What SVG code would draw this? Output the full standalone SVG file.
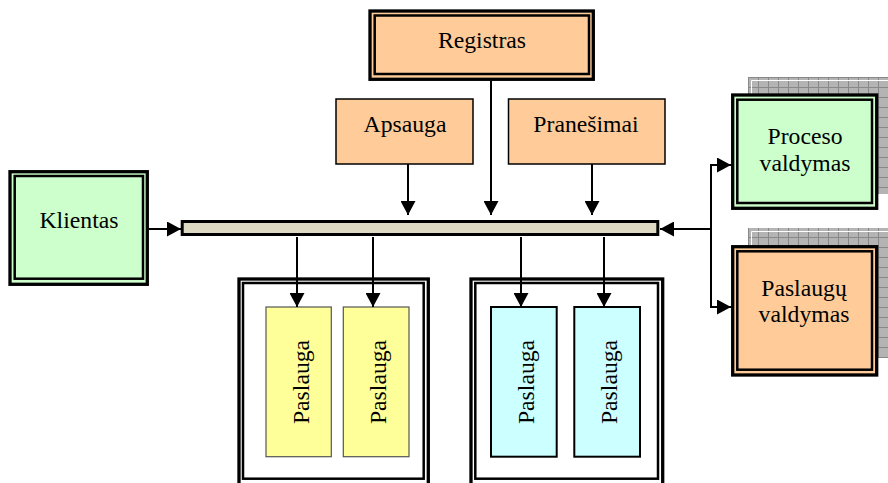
<svg xmlns="http://www.w3.org/2000/svg" width="888" height="483" viewBox="0 0 888 483" font-family="'Liberation Serif', 'DejaVu Serif', serif">
  <defs>
    <style>
      text { font-family: 'Liberation Serif', 'DejaVu Serif', serif; font-size: 23.7px; fill: #000; text-anchor: middle; }
      .outer { stroke: #000; stroke-width: 3.3; }
      .inner { fill: none; stroke: #000; stroke-width: 2.5; }
      .plain { stroke: #000; stroke-width: 1.5; }
      .orange { fill: #FFCC99; }
      .green { fill: #CCFFCC; }
      .yellow { fill: #FFFF99; stroke: #555; stroke-width: 1.2; }
      .cyan { fill: #CCFFFF; stroke: #000; stroke-width: 2; }
      .frame { fill: #fff; stroke: #000; stroke-width: 3.3; }
      .frame-in { fill: none; stroke: #000; stroke-width: 2.5; }
      .conn { fill: none; stroke: #000; stroke-width: 2; }
      .shadow-base { fill: #B4B4B4; }
      .shadow-grid { fill: url(#grid); }
    </style>
    <marker id="arrow" markerUnits="userSpaceOnUse" markerWidth="15" markerHeight="15" refX="14" refY="7.5" orient="auto">
      <path d="M0,0 L14,7.5 L0,15 Z" fill="#000"/>
    </marker>
    <pattern id="grid" patternUnits="userSpaceOnUse" x="748" y="77" width="10" height="10">
      <path d="M0,0.5 H10 M0.5,0 V10" stroke="#888" stroke-width="1" fill="none"/>
    </pattern>
  </defs>

  <!-- drop shadows of the management boxes -->
  <g id="seselis-1">
    <rect class="shadow-base" x="748" y="77" width="147" height="117"/>
    <rect class="shadow-grid" x="748" y="77" width="147" height="117"/>
    <path d="M751.5,193 V80.5 H895" fill="none" stroke="#fff" stroke-width="1"/>
  </g>
  <g id="seselis-2">
    <rect class="shadow-base" x="748" y="228" width="147" height="130"/>
    <rect class="shadow-grid" x="748" y="228" width="147" height="130"/>
    <path d="M751.5,358 V231.5 H895" fill="none" stroke="#fff" stroke-width="1"/>
  </g>

  <g id="registras">
    <rect class="outer orange" x="370" y="11" width="223.3" height="68.3"/>
    <rect class="inner" x="374.7" y="15.5" width="214.3" height="58.5"/>
    <text x="482" y="48">Registras</text>
  </g>

  <g id="apsauga">
    <rect class="plain orange" x="336" y="99" width="137" height="65"/>
    <text x="405" y="132">Apsauga</text>
  </g>

  <g id="pranesimai">
    <rect class="plain orange" x="508.5" y="99" width="156.5" height="65"/>
    <text x="586" y="132">Pranešimai</text>
  </g>

  <g id="klientas">
    <rect class="outer green" x="10" y="171.7" width="137.3" height="112.6"/>
    <rect class="inner" x="14.7" y="176" width="128.3" height="102.7"/>
    <text x="79" y="228">Klientas</text>
  </g>

  <g id="magistrale">
    <rect x="182.2" y="221.5" width="475.6" height="13" fill="#DDD9C3" stroke="#000" stroke-width="3"/>
  </g>

  <g id="proceso-valdymas">
    <rect class="outer green" x="732.7" y="95" width="144" height="113.3"/>
    <rect class="inner" x="737.3" y="99.7" width="134.7" height="103.3"/>
    <text x="805" y="144">Proceso</text>
    <text x="805" y="171">valdymas</text>
  </g>

  <g id="paslaugu-valdymas">
    <rect class="outer orange" x="732.7" y="246.7" width="144" height="128.3"/>
    <rect class="inner" x="737.3" y="251.3" width="134.7" height="118.4"/>
    <text x="804" y="296">Paslaugų</text>
    <text x="804" y="322">valdymas</text>
  </g>

  <g id="konteineris-1">
    <rect class="frame" x="239" y="279" width="189.3" height="220"/>
    <rect class="frame-in" x="243" y="283" width="180.7" height="195.7"/>
  </g>

  <g id="konteineris-2">
    <rect class="frame" x="471" y="279" width="191.7" height="220"/>
    <rect class="frame-in" x="475.3" y="283" width="182.7" height="195.7"/>
  </g>

  <g id="paslauga-1">
    <rect class="yellow" x="266" y="307" width="65.3" height="149.7"/>
    <text transform="translate(308.5,382) rotate(-90)">Paslauga</text>
  </g>
  <g id="paslauga-2">
    <rect class="yellow" x="343.3" y="307" width="65.7" height="149.7"/>
    <text transform="translate(385.5,382) rotate(-90)">Paslauga</text>
  </g>
  <g id="paslauga-3">
    <rect class="cyan" x="491" y="307" width="65.7" height="149.7"/>
    <text transform="translate(533.5,382) rotate(-90)">Paslauga</text>
  </g>
  <g id="paslauga-4">
    <rect class="cyan" x="574.3" y="307" width="65.7" height="149.7"/>
    <text transform="translate(616.5,382) rotate(-90)">Paslauga</text>
  </g>

  <g id="connectors">
    <!-- into the bus from above -->
    <path class="conn" d="M491,81 V215" marker-end="url(#arrow)"/>
    <path class="conn" d="M408,164 V215" marker-end="url(#arrow)"/>
    <path class="conn" d="M592,164 V215" marker-end="url(#arrow)"/>
    <!-- client into the bus -->
    <path class="conn" d="M149,229 H181" marker-end="url(#arrow)"/>
    <!-- management side -->
    <path class="conn" d="M711,229 H660" marker-end="url(#arrow)"/>
    <path class="conn" d="M711,229 V165 H731" marker-end="url(#arrow)"/>
    <path class="conn" d="M711,229 V307 H731" marker-end="url(#arrow)"/>
    <!-- bus down to services -->
    <path class="conn" d="M297,237 V307" marker-end="url(#arrow)"/>
    <path class="conn" d="M373,237 V307" marker-end="url(#arrow)"/>
    <path class="conn" d="M521,237 V307" marker-end="url(#arrow)"/>
    <path class="conn" d="M604,237 V307" marker-end="url(#arrow)"/>
  </g>
</svg>
